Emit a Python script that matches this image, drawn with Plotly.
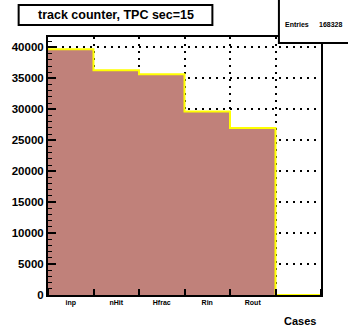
import plotly.graph_objects as go

# bin labels and contents
cases = ["inp", "nHit", "Hfrac", "Rin", "Rout", ""]
counts = [39700, 36320, 35680, 29650, 26978, 0]
entries = 168328
title = "track counter, TPC sec=15"

fill_col = "#c0817a"
nb = len(cases)
centers = list(range(nb))

# frame in pixels, used to place the boxes outside the plot area
W, H = 348, 326
L, R, T, B = 42, 321, 37, 295
def px(x): return (x - L) / (R - L)
def py(y): return (B - y) / (B - T)

fig = go.Figure()
fig.add_trace(go.Bar(x=centers, y=counts, width=1.0,
                     marker=dict(color=fill_col, line=dict(width=0)),
                     hoverinfo="skip"))
# step outline like ROOT
step_x = [c - 0.5 for c in centers] + [centers[-1] + 0.5]
step_y = counts + [counts[-1]]
fig.add_trace(go.Scatter(x=step_x, y=step_y, mode="lines",
                         line=dict(color="#ffff00", width=2, shape="hv"),
                         hoverinfo="skip"))

ymax = max(counts) * 1.05
font = dict(family="Liberation Sans, Arial, sans-serif", color="black", weight="bold")

fig.update_layout(
    width=W, height=H, showlegend=False,
    margin=dict(l=L, r=W - R, t=T, b=H - B, pad=0),
    plot_bgcolor="white", paper_bgcolor="white",
    bargap=0, font=font,
    xaxis=dict(range=[-0.5, nb - 0.5], tickvals=centers, ticktext=cases,
               ticks="", showgrid=False, zeroline=False,
               tickfont=dict(size=7, **font),
               showline=True, linecolor="black", linewidth=2, mirror=True,
               minor=dict(tick0=0.5, dtick=1, ticks="inside", ticklen=6,
                          tickcolor="black", tickwidth=2,
                          showgrid=True, gridcolor="black", gridwidth=2,
                          griddash="2px,5px")),
    yaxis=dict(range=[0, ymax], dtick=5000, tickformat="d",
               ticks="inside", ticklen=8, tickwidth=2, tickcolor="black",
               showgrid=True, gridcolor="black", gridwidth=2, griddash="2px,5px",
               zeroline=False, tickfont=dict(size=11.5, **font),
               showline=True, linecolor="black", linewidth=2, mirror=True,
               minor=dict(dtick=1000, ticks="inside", ticklen=4,
                          tickcolor="black", tickwidth=1, showgrid=False)),
)

# title box
fig.add_shape(type="rect", xref="paper", yref="paper",
              x0=px(12), x1=px(210), y0=py(25), y1=py(5),
              line=dict(color="black", width=2), fillcolor="white", layer="above")
fig.add_annotation(text=title, xref="paper", yref="paper",
                   x=px(111), y=py(15), xanchor="center", yanchor="middle",
                   showarrow=False, font=dict(size=12.5, **font))

# stats box
fig.add_shape(type="rect", xref="paper", yref="paper",
              x0=px(278), x1=px(350), y0=py(43), y1=py(-2),
              line=dict(color="black", width=2), fillcolor="white", layer="above")
fig.add_annotation(text="Entries", xref="paper", yref="paper",
                   x=px(282), y=py(25), xanchor="left", yanchor="middle",
                   showarrow=False, font=dict(size=7, **font))
fig.add_annotation(text=str(entries), xref="paper", yref="paper",
                   x=px(345), y=py(25), xanchor="right", yanchor="middle",
                   showarrow=False, font=dict(size=7, **font))

# axis title
fig.add_annotation(text="Cases", xref="paper", yref="paper",
                   x=px(318), y=py(321), xanchor="right", yanchor="middle",
                   showarrow=False, font=dict(size=11, **font))

# drop the page's default body margin so the figure sits at the window corner
fig.write_html("out.html", config={"displayModeBar": False},
               post_script="document.body.style.margin='0';")
